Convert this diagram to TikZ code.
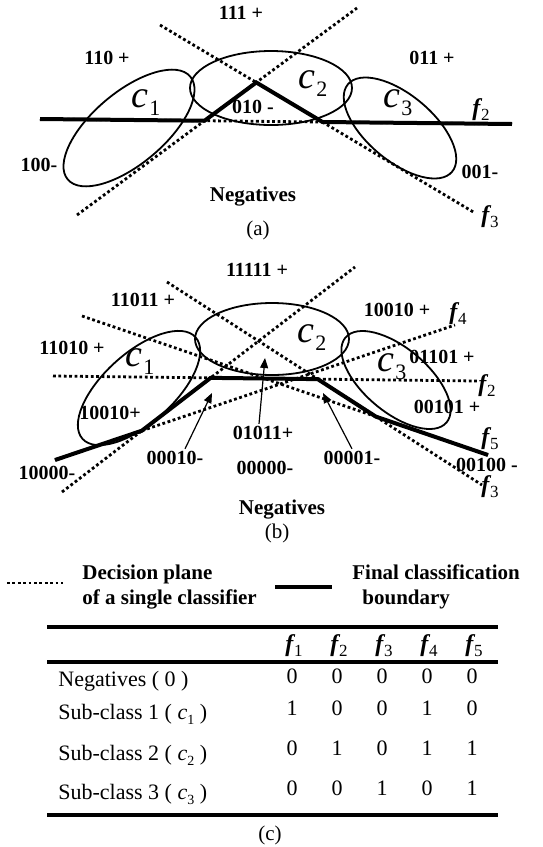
\documentclass[tikz,border=0pt]{standalone}
\usepackage{fontspec}
\setmainfont{Liberation Serif}
\usepackage{tikz}
\usetikzlibrary{arrows.meta}

% sub-class and classifier labels
\newcommand{\clab}[1]{{\fontsize{19}{19}\selectfont\itshape c}\kern0.5pt\raisebox{-4pt}{\fontsize{11}{11}\selectfont #1}}
\newcommand{\csml}[1]{{\itshape c}\raisebox{-2.5pt}{\fontsize{7}{7}\selectfont #1}}
\newcommand{\flab}[1]{{\fontsize{12}{12}\selectfont\bfseries\itshape f}\kern0.3pt\raisebox{-2.5pt}{\fontsize{8.5}{8.5}\selectfont #1}}

\tikzset{
    plane/.style={line width=1.4pt, dash pattern=on 1.4pt off 1.3pt},
    boundary/.style={line width=2pt},
    cluster/.style={line width=0.9pt},
    lab/.style={font=\fontsize{10}{12}\selectfont\bfseries, inner sep=1pt},
    biglab/.style={font=\fontsize{10.5}{12.5}\selectfont\bfseries, inner sep=1pt},
    subcap/.style={font=\fontsize{10.5}{12.5}\selectfont, inner sep=1pt},
    cell/.style={font=\fontsize{11}{13}\selectfont, inner sep=1pt},
    pointer/.style={line width=0.6pt, -{Triangle[length=5pt,width=4pt]}}
}

\begin{document}
\begin{tikzpicture}[x=0.5pt, y=-0.5pt]
    \useasboundingbox (0,0) rectangle (542,847);

    % ==== Panel (a) ====
    \coordinate (af1s) at (77,215);  \coordinate (af1e) at (357,8);
    \coordinate (af3s) at (160,25);  \coordinate (af3e) at (475,213);
    \coordinate (af2s) at (40,119);  \coordinate (af2e) at (512,124);
    \coordinate (ak1) at (intersection of af1s--af1e and af2s--af2e);
    \coordinate (ak2) at (intersection of af1s--af1e and af3s--af3e);
    \coordinate (ak3) at (intersection of af3s--af3e and af2s--af2e);

    % sub-class regions
    \draw[cluster, rotate around={40:(129,128)}] (129,128) ellipse [x radius=80, y radius=36];
    \draw[cluster] (271,88) ellipse [x radius=81, y radius=37];
    \draw[cluster, rotate around={-40:(400,128)}] (400,128) ellipse [x radius=68, y radius=33];

    % single classifiers
    \draw[plane] (af1s) -- (af1e);
    \draw[plane] (af3s) -- (af3e);
    \draw[plane] (af2s) -- (af2e);
    % final boundary
    \draw[boundary] (af2s) -- (ak1) -- (ak2) -- (ak3) -- (af2e);

    \node[lab] (a111) at (241,13) {111 +};
    \node[lab] (a110) at (107,58) {110 +};
    \node[lab] (a011) at (432,58) {011 +};
    \node[lab] (a010) at (253,107) {010 -};
    \node[lab] (a100) at (39,165) {100-};
    \node[lab] (a001) at (480,172) {001-};
    \node[biglab] (aneg) at (253,197) {Negatives};
    \node[subcap] (acap) at (258,230) {(a)};
    \node[inner sep=1pt] (af2) at (481,110) {\flab{2}};
    \node[inner sep=1pt] (af3) at (490,217) {\flab{3}};
    \node[inner sep=0pt] (ac1) at (146,103) {\clab{1}};
    \node[inner sep=0pt] (ac2) at (313,84) {\clab{2}};
    \node[inner sep=0pt] (ac3) at (398,103) {\clab{3}};

    % ==== Panel (b) ====
    \coordinate (bf1s) at (62,492);  \coordinate (bf1e) at (355,267);
    \coordinate (bf3s) at (167,282); \coordinate (bf3e) at (482,485);
    \coordinate (bf2s) at (53,376);  \coordinate (bf2e) at (478,381);
    \coordinate (bf4s) at (55,460);  \coordinate (bf4e) at (455,325);
    \coordinate (bf5s) at (82,316);  \coordinate (bf5e) at (488,455);
    \coordinate (bk1) at (intersection of bf4s--bf4e and bf1s--bf1e);
    \coordinate (bk2) at (intersection of bf1s--bf1e and bf2s--bf2e);
    \coordinate (bk3) at (intersection of bf2s--bf2e and bf3s--bf3e);
    \coordinate (bk4) at (intersection of bf3s--bf3e and bf5s--bf5e);

    % sub-class regions
    \draw[cluster, rotate around={42:(139,388)}] (139,388) ellipse [x radius=76, y radius=35];
    \draw[cluster] (272,339) ellipse [x radius=77, y radius=36];
    \draw[cluster, rotate around={-40:(396,380)}] (396,380) ellipse [x radius=66, y radius=32];

    % single classifiers
    \draw[plane] (bf1s) -- (bf1e);
    \draw[plane] (bf3s) -- (bf3e);
    \draw[plane] (bf2s) -- (bf2e);
    \draw[plane] (bf4s) -- (bf4e);
    \draw[plane] (bf5s) -- (bf5e);
    % final boundary
    \draw[boundary] (bf4s) -- (bk1) -- (bk2) -- (bk3) -- (bk4) -- (bf5e);

    \node[lab] (b11111) at (257,270) {11111 +};
    \node[lab] (b11011) at (143,300) {11011 +};
    \node[lab] (b10010t) at (397,310) {10010 +};
    \node[lab] (b11010) at (72,348) {11010 +};
    \node[lab] (b01101) at (442,357) {01101 +};
    \node[lab] (b00101) at (447,407) {00101 +};
    \node[lab] (b10010) at (110,413) {10010+};
    \node[lab] (b01011) at (263,433) {01011+};
    \node[lab] (b00010) at (175,458) {00010-};
    \node[lab] (b00001) at (352,458) {00001-};
    \node[lab] (b00000) at (265,468) {00000-};
    \node[lab] (b10000) at (47,473) {10000-};
    \node[lab] (b00100) at (487,465) {00100 -};
    \node[biglab] (bneg) at (282,510) {Negatives};
    \node[subcap] (bcap) at (277,533) {(b)};
    \node[inner sep=1pt] (bf4) at (458,314) {\flab{4}};
    \node[inner sep=1pt] (bf2) at (487,386) {\flab{2}};
    \node[inner sep=1pt] (bf5) at (490,439) {\flab{5}};
    \node[inner sep=1pt] (bf3) at (490,487) {\flab{3}};
    \node[inner sep=0pt] (bc1) at (140,362) {\clab{1}};
    \node[inner sep=0pt] (bc2) at (312,338) {\clab{2}};
    \node[inner sep=0pt] (bc3) at (392,367) {\clab{3}};

    % region pointers
    \coordinate (bt1) at (212,393);
    \coordinate (bt2) at (265,358);
    \coordinate (bt3) at (323,393);
    \draw[pointer] ([xshift=5pt]b00010.north) -- (bt1);
    \draw[pointer] ([xshift=-2pt]b01011.north) -- (bt2);
    \draw[pointer] (b00001.north) -- (bt3);

    % ==== Legend ====
    \draw[plane] (7,583) -- (63,583);
    \node[biglab, anchor=west, align=left] (legd) at (80,587) {Decision plane\\of a single classifier};
    \draw[boundary] (275,587) -- (332,587);
    \node[biglab, anchor=west, align=left] (legf) at (350,587) {Final classification\\\hspace*{5pt}boundary};

    % ==== Table (c) ====
    \draw[line width=1.8pt] (47,627) -- (498,627);
    \draw[line width=1.8pt] (47,662) -- (498,662);
    \draw[line width=1.8pt] (47,815) -- (498,815);

    \node[cell] (hf1) at (294,646) {\flab{1}};
    \node[cell] (hf2) at (339,646) {\flab{2}};
    \node[cell] (hf3) at (384,646) {\flab{3}};
    \node[cell] (hf4) at (429,646) {\flab{4}};
    \node[cell] (hf5) at (474,646) {\flab{5}};

    \node[cell, anchor=west] (rneg) at (56,681) {Negatives ( 0 )};
    \node[cell, anchor=west] (rc1) at (56,714) {Sub-class 1 ( \csml{1} )};
    \node[cell, anchor=west] (rc2) at (56,755) {Sub-class 2 ( \csml{2} )};
    \node[cell, anchor=west] (rc3) at (56,794) {Sub-class 3 ( \csml{3} )};

    \node[cell] (v01) at (292,676) {0}; \node[cell] (v02) at (337,676) {0};
    \node[cell] (v03) at (382,676) {0}; \node[cell] (v04) at (427,676) {0};
    \node[cell] (v05) at (472,676) {0};
    \node[cell] (v11) at (292,708) {1}; \node[cell] (v12) at (337,708) {0};
    \node[cell] (v13) at (382,708) {0}; \node[cell] (v14) at (427,708) {1};
    \node[cell] (v15) at (472,708) {0};
    \node[cell] (v21) at (292,748) {0}; \node[cell] (v22) at (337,748) {1};
    \node[cell] (v23) at (382,748) {0}; \node[cell] (v24) at (427,748) {1};
    \node[cell] (v25) at (472,748) {1};
    \node[cell] (v31) at (292,788) {0}; \node[cell] (v32) at (337,788) {0};
    \node[cell] (v33) at (382,788) {1}; \node[cell] (v34) at (427,788) {0};
    \node[cell] (v35) at (472,788) {1};

    \node[subcap] (ccap) at (270,835) {(c)};
\end{tikzpicture}
\end{document}
